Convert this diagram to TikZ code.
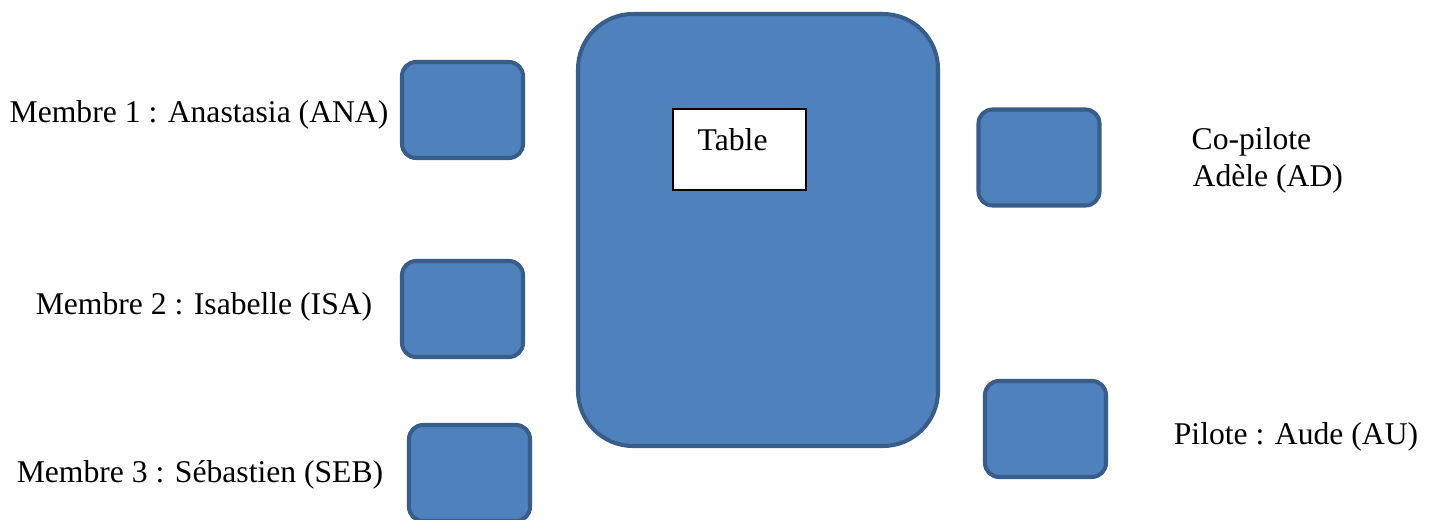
\documentclass[tikz,border=0pt]{standalone}
\usepackage{fontspec}
\setmainfont{Liberation Serif}
\definecolor{seatfill}{HTML}{4F81BD}
\definecolor{seatline}{HTML}{385D8A}

\begin{document}
\begin{tikzpicture}[
    seat/.style={draw=seatline, fill=seatfill, line width=1.15pt, rounded corners=0.14cm,
                 minimum width=1.21cm, minimum height=0.96cm, inner sep=0pt},
    lbl/.style={font=\fontsize{9}{11}\selectfont, inner sep=0pt}
  ]
    \useasboundingbox (0,0) rectangle (14.32,5.19);
    % la table
    \node[draw=seatline, fill=seatfill, line width=1.15pt, rounded corners=0.55cm,
          minimum width=3.6cm, minimum height=4.32cm, inner sep=0pt] (table) at (7.58,2.89) {};
    \node[draw=black, fill=white, line width=0.5pt, minimum width=1.33cm, minimum height=0.81cm,
          inner sep=0pt] (tablebox) at (7.395,3.695) {};
    \node[lbl, anchor=west] (tabletxt) at (6.97,3.79) {Table};
    % les places
    \node[seat] (ana) at (4.625,4.09) {};
    \node[seat] (isa) at (4.625,2.10) {};
    \node[seat] (seb) at (4.695,0.46) {};
    \node[seat] (ad) at (10.39,3.615) {};
    \node[seat] (au) at (10.455,0.90) {};
    % les noms
    \node[lbl] (anatxt) at (1.99,4.04) {Membre 1 : Anastasia (ANA)};
    \node[lbl] (isatxt) at (2.04,2.12) {Membre 2 : Isabelle (ISA)};
    \node[lbl] (sebtxt) at (2.00,0.44) {Membre 3 : Sébastien (SEB)};
    \node[lbl, anchor=base west] (adtxt) at (11.91,3.70) {Co-pilote};
    \node[lbl, anchor=base west] (adname) at (11.92,3.33) {Adèle (AD)};
    \node[lbl] (autxt) at (12.96,0.82) {Pilote : Aude (AU)};
\end{tikzpicture}
\end{document}
